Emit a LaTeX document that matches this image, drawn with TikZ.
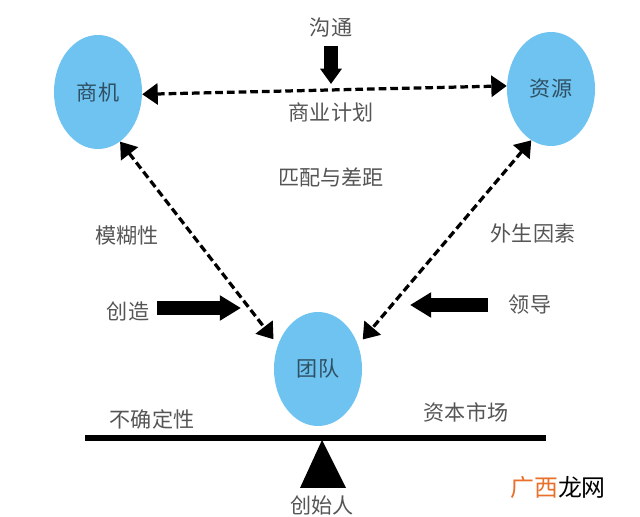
\documentclass[tikz,border=0pt]{standalone}
\usepackage{fontspec}
\setmainfont{Noto Sans CJK SC}
\usetikzlibrary{arrows.meta,shapes.geometric}
\definecolor{bubble}{HTML}{6EC3F0}
\definecolor{labelgray}{HTML}{555555}
\definecolor{bubbletext}{HTML}{2F4F63}
\definecolor{markorange}{HTML}{E8702A}

\begin{document}
\begin{tikzpicture}[
        x=0.025cm,
        y=-0.025cm,
        party/.style={
            draw=none,
            fill=bubble,
            ellipse,
            minimum width=88*0.025cm,
            minimum height=114*0.025cm,
            inner sep=0pt,
            text=bubbletext,
            font=\fontsize{15}{15}\selectfont,
        },
        label-text/.style={
            text=labelgray,
            inner sep=0pt,
            font=\fontsize{15}{15}\selectfont,
        },
        link-dashed/.style={
            {Triangle[length=11pt,width=15pt]}-{Triangle[length=11pt,width=15pt]},
            line width=2.3pt,
            dash pattern=on 5.5pt off 2.8pt,
        },
        push/.style={
            -{Triangle[length=15pt,width=17pt]},
            line width=9.5pt,
        },
        push-small/.style={
            -{Triangle[length=11pt,width=15pt]},
            line width=9.5pt,
        },
        beam/.style={
            line width=4.2pt,
        },
    ]
    \useasboundingbox (0,0) rectangle (640,517);

    % Bubbles.
    \node[party] (shangji) at (98,92) {商机};
    \node[party] (ziyuan) at (551,89) {资源};
    \node[party] (tuandui) at (318,369) {团队};

    % Labels.
    \foreach \x/\y/\name/\txt in {
        331/28/goutong/沟通,
        331/112/jihua/商业计划,
        331/177/pipei/匹配与差距,
        127/236/mohu/模糊性,
        533/233/waisheng/外生因素,
        128/311/chuangzao/创造,
        530/305/lingdao/领导,
        152/419/buqueding/不确定性,
        466/412/shichang/资本市场,
        322/505/founder/创始人}
    \node[label-text] (\name) at (\x,\y) {\txt};

    % Watermark.
    \node[inner sep=0pt, font=\fontsize{17}{17}\selectfont] (mark) at (558,488)
        {\textcolor{markorange}{广西}龙网};

    % Dashed links.
    \draw[link-dashed] (shangji.-3) -- (ziyuan.176);
    \draw[link-dashed, shorten >=5pt] (shangji.-66) -- (tuandui.149);
    \draw[link-dashed, shorten >=5pt] (ziyuan.-111) -- (tuandui.31);

    % Block arrows.
    \coordinate (downend) at (331,84);
    \coordinate (rightend) at (241,308);
    \coordinate (leftend) at (410,305);
    \coordinate (downstart) at (331,46);
    \coordinate (rightstart) at (157,308);
    \coordinate (leftstart) at (488,305);
    \draw[push-small] (downstart) -- (downend);
    \draw[push] (rightstart) -- (rightend);
    \draw[push] (leftstart) -- (leftend);

    % Beam and fulcrum.
    \coordinate (beamleft) at (85,438);
    \coordinate (beamright) at (546,438);
    \draw[beam] (beamleft) -- (beamright);
    \coordinate (apex) at (322,440);
    \coordinate (baseleft) at (300,488);
    \coordinate (baseright) at (346,488);
    \fill (apex) -- (baseleft) -- (baseright) -- cycle;
\end{tikzpicture}
\end{document}
